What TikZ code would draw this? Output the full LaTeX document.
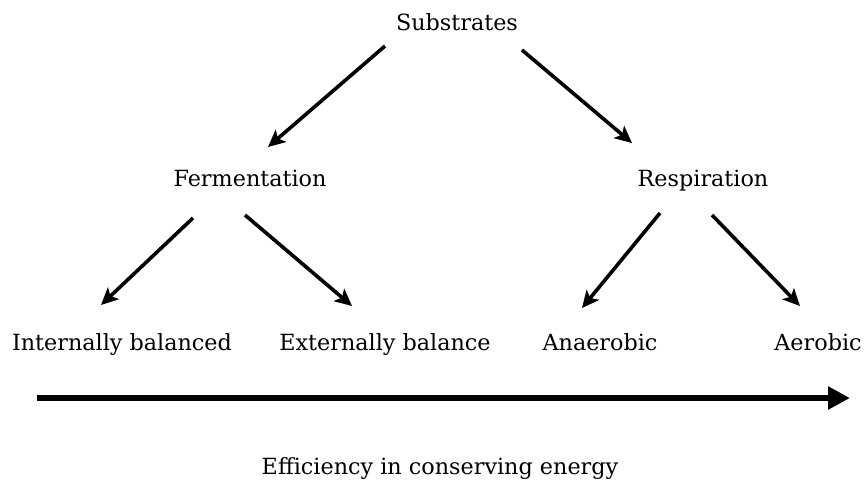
\documentclass[tikz,border=0pt]{standalone}
\usepackage{fontspec}
\setmainfont{DejaVu Serif}
\usetikzlibrary{arrows.meta}
\tikzset{
  lbl/.style={inner sep=0pt, text height=18pt, text depth=2pt, font=\fontsize{22.3}{26}\selectfont},
  arr/.style={-{Stealth[length=17pt, width=16pt, inset=4pt]}, line width=3.6pt},
  bigarr/.style={-{Triangle[length=22pt, width=22pt]}, line width=6.5pt}
}
\begin{document}
\begin{tikzpicture}[x=1pt, y=-1pt]
  \useasboundingbox (0,0) rectangle (866,479);
  \node[lbl] (sub) at (457, 22) {Substrates};
  \node[lbl] (fer) at (250, 178) {Fermentation};
  \node[lbl] (res) at (703, 178) {Respiration};
  \node[lbl] (int) at (122, 342) {Internally balanced};
  \node[lbl] (ext) at (385, 342) {Externally balance};
  \node[lbl] (ana) at (600, 342) {Anaerobic};
  \node[lbl] (aer) at (818, 342) {Aerobic};
  \node[lbl] (eff) at (440, 466) {Efficiency in conserving energy};
  \coordinate (left) at (37, 398);
  \coordinate (right) at (850, 398);
  % branches
  \draw[arr] ([shift={(-72,24)}]sub.center) -- ([shift={(18,-31)}]fer.center);
  \draw[arr] ([shift={(65,28)}]sub.center) -- ([shift={(-71,-35)}]res.center);
  \draw[arr] ([shift={(-57,40)}]fer.center) -- ([shift={(-21,-37)}]int.center);
  \draw[arr] ([shift={(-5,37)}]fer.center) -- ([shift={(-33,-36)}]ext.center);
  \draw[arr] ([shift={(-43,35)}]res.center) -- ([shift={(-18,-34)}]ana.center);
  \draw[arr] ([shift={(9,37)}]res.center) -- ([shift={(-18,-36)}]aer.center);
  % energy axis
  \draw[bigarr] (left) -- (right);
\end{tikzpicture}
\end{document}
